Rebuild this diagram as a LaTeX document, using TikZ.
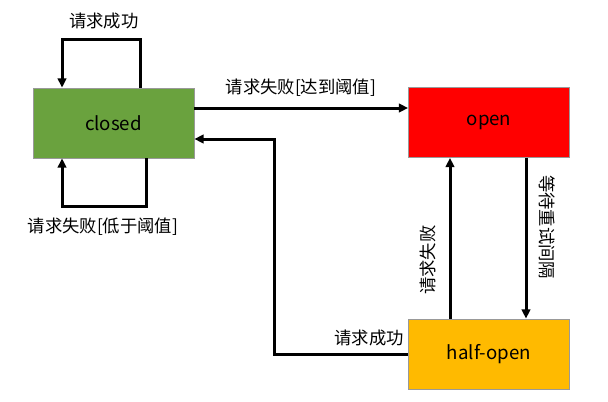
\documentclass[tikz,border=0pt]{standalone}
\usepackage{fontspec}
\newfontfamily\cjk{Noto Sans CJK SC}
\usetikzlibrary{arrows.meta}
\definecolor{closedgreen}{HTML}{6AA23E}
\definecolor{halforange}{HTML}{FFBA00}
\begin{document}
\begin{tikzpicture}[x=0.75pt, y=-0.75pt,
    statebox/.style={draw=gray!80, line width=0.6pt, minimum width=120.75pt, minimum height=52.5pt, inner sep=0pt, font=\cjk\fontsize{14}{16}\selectfont},
    trans/.style={line width=2.25pt, -{Triangle[length=7pt, width=6.5pt]}},
    lbl/.style={font=\cjk\fontsize{13}{15}\selectfont, inner sep=1pt}]
    \useasboundingbox (0,0) rectangle (608,401);

    % Estados
    \node[statebox, fill=closedgreen] (closed) at (113.5,123) {closed};
    \node[statebox, fill=red] (open) at (489,122.5) {open};
    \node[statebox, fill=halforange] (half) at (489,354) {half-open};

    % Bucles de closed
    \draw[trans] ([xshift=19.9pt]closed.north) -- ++(0,-48) -| ([xshift=-38.6pt]closed.north);
    \draw[trans] ([xshift=24.4pt]closed.south) -- ++(0,48) -| ([xshift=-38.6pt]closed.south);
    \node[lbl] (okloop) at (104,21) {请求成功};
    \node[lbl] (failloop) at (103,227) {请求失败[低于阈值]};

    % closed -> open
    \draw[trans] ([yshift=11.25pt]closed.east) -- ([yshift=11.25pt]closed.east -| open.west);
    \node[lbl] (failopen) at (301,88) {请求失败[达到阈值]};

    % half-open -> closed
    \coordinate (back) at (274,139);
    \draw[trans] (half.west) -| (back) -- (back -| closed.east);
    \node[lbl] (okback) at (369,338) {请求成功};

    % open <-> half-open
    \draw[trans] ([xshift=-29.25pt]half.north) -- ([xshift=-29.25pt]open.south);
    \draw[trans] ([xshift=27.75pt]open.south) -- ([xshift=27.75pt]half.north);
    \node[lbl, rotate=90] (failhalf) at (428,260) {请求失败};
    \node[lbl, rotate=-90] (wait) at (547,227) {等待重试间隔};
\end{tikzpicture}
\end{document}
